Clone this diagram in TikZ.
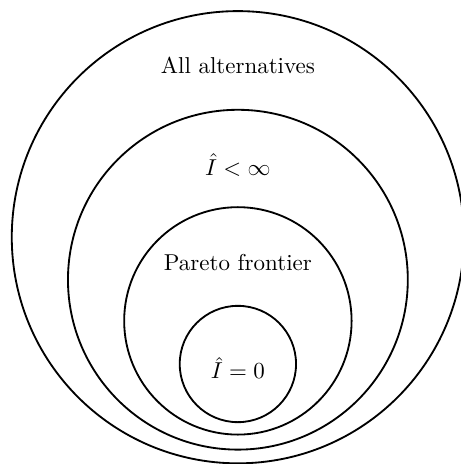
\documentclass[tikz,border=0pt]{standalone}
\usepackage{amsmath}
\usepackage{amssymb}
\usepackage{tikz}
\usetikzlibrary{positioning}

\begin{document}
\begin{tikzpicture}
    \useasboundingbox (0,0) rectangle (7.04,7.10);
    \draw[thick] (3.64,3.47) circle (3.46);
    \draw[thick] (3.64,2.82) circle (2.60);
    \draw[thick] (3.64,2.19) circle (1.74);
    \draw[thick] (3.64,1.53) circle (0.89);
    \node (all) at (3.64,6.10) {All alternatives};
    \node (finite) at (3.64,4.57) {$\hat{I} < \infty$};
    \node (pareto) at (3.64,3.09) {Pareto frontier};
    \node (zero) at (3.64,1.47) {$\hat{I} = 0$};
\end{tikzpicture}
\end{document}
